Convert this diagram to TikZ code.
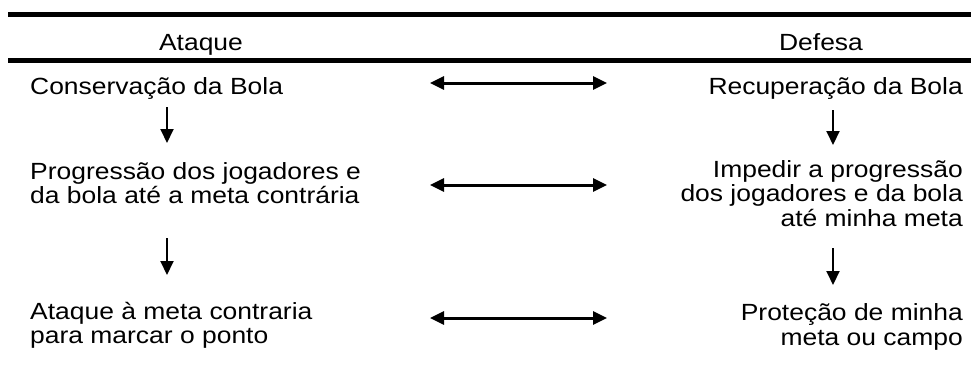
\documentclass[tikz,border=0pt]{standalone}
\usepackage{fontspec}
\setmainfont{Liberation Sans}[FakeStretch=1.13]
\usetikzlibrary{arrows.meta}
\begin{document}
\begin{tikzpicture}[x=1pt,y=-1pt]
   \tikzset{>={Triangle[length=14pt,width=13pt]}}
   \tikzset{txt/.style={inner sep=0pt, font=\fontsize{23.4}{24.5}\selectfont},
            esq/.style={txt, anchor=base west, align=left},
            dir/.style={txt, anchor=base east, align=right},
            regra/.style={line width=5pt},
            seta/.style={<->, line width=3pt},
            desce/.style={->, line width=2pt}}
   \useasboundingbox (0,0) rectangle (971,364);
   % linhas do cabecalho
   \draw[regra] (8,14.5) -- (971,14.5);
   \draw[regra] (8,60.5) -- (971,60.5);
   \node[txt, anchor=base] (ataque) at (201,50) {Ataque};
   \node[txt, anchor=base] (defesa) at (821,50) {Defesa};
   % ataque (base = ultima linha)
   \node[esq] (conserva) at (30,94) {Conservação da Bola};
   \node[esq] (progride) at (30,203.5) {Progressão dos jogadores e\\da bola até a meta contrária};
   \node[esq] (marca) at (30,343.5) {Ataque à meta contraria\\para marcar o ponto};
   % defesa
   \node[dir] (recupera) at (963,94) {Recuperação da Bola};
   \node[dir] (impede) at (963,226) {Impedir a progressão\\dos jogadores e da bola\\até minha meta};
   \node[dir] (protege) at (963,345) {Proteção de minha\\meta ou campo};
   % setas
   \coordinate (a1) at (430,83);  \coordinate (b1) at (607,83);
   \coordinate (a2) at (430,185); \coordinate (b2) at (607,185);
   \coordinate (a3) at (430,318); \coordinate (b3) at (607,318);
   \draw[seta] (a1) -- (b1);
   \draw[seta] (a2) -- (b2);
   \draw[seta] (a3) -- (b3);
   \coordinate (e1) at (167,107); \coordinate (f1) at (167,143);
   \coordinate (e2) at (167,238); \coordinate (f2) at (167,275);
   \coordinate (g1) at (833,110); \coordinate (h1) at (833,145);
   \coordinate (g2) at (833,248); \coordinate (h2) at (833,285);
   \draw[desce] (e1) -- (f1);
   \draw[desce] (e2) -- (f2);
   \draw[desce] (g1) -- (h1);
   \draw[desce] (g2) -- (h2);
\end{tikzpicture}
\end{document}
